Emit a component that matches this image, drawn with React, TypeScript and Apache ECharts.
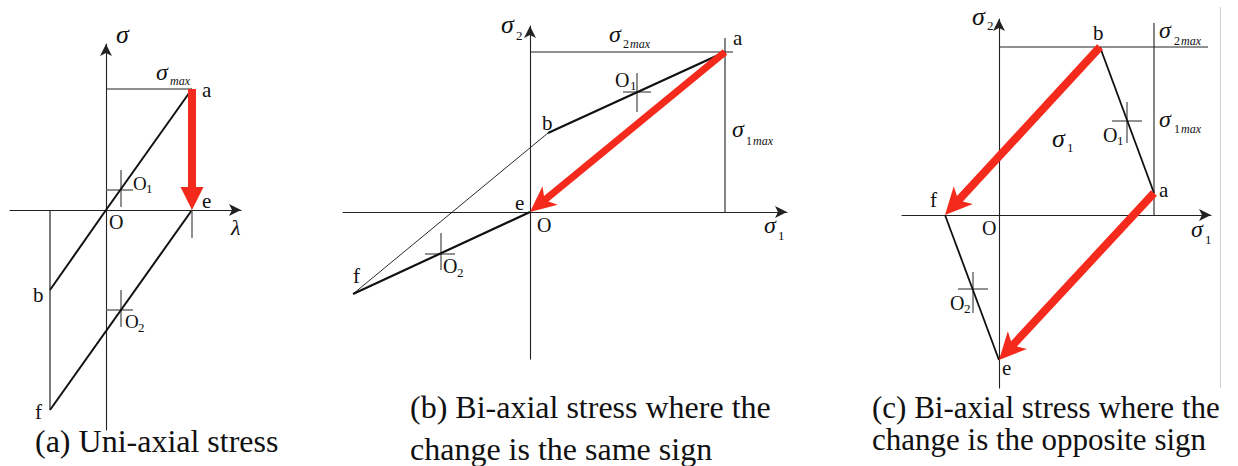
import { useEffect, useRef } from "react";
import * as echarts from "echarts";

// ---- (a) uni-axial stress: σ against λ, origin O at (0, 0) ----
const A_LOAD_BOA = [[-56, -80], [0, 0], [86, 121]]; // b – O – a
const A_RELOAD_FE = [[-56, -200], [86, 0]]; // f – e
const A_DROP_BF = [[-56, 0], [-56, -200]];
const A_SIGMA_MAX = [[0, 121], [86, 121]];
const A_TICK_E = [[86, 0], [86, -28]];
const A_CROSS_O1 = [[[15, 40], [15, 3]], [[0, 20], [27, 20]]];
const A_CROSS_O2 = [[[15, -80], [15, -117]], [[0, -100], [27, -100]]];
const A_ARROWS = [[86, 121, 86, 0]]; // a → e

// ---- (b) bi-axial, same sign: σ2 against σ1 ----
const B_PATH_BA = [[18, 79], [195, 160]]; // b – a
const B_PATH_FO = [[-177, -82], [0, 0]]; // f – O(e)
const B_THIN_FB = [[-177, -82], [18, 79]]; // f – b
const B_SIGMA2_MAX = [[0, 160], [203, 160]];
const B_SIGMA1_MAX = [[195, 174], [195, 0]];
const B_CROSS_O1 = [[[107, 139], [107, 100]], [[93, 120], [121, 120]]];
const B_CROSS_O2 = [[[-89, -21], [-89, -58]], [[-105, -42], [-75, -42]]];
const B_ARROWS = [[195, 160, 0, 0]]; // a → e

// ---- (c) bi-axial, opposite sign: σ2 against σ1 ----
const C_PATH_BA = [[101, 168], [155, 22]]; // b – a
const C_PATH_FE = [[-54, 0], [0, -145]]; // f – e
const C_SIGMA2_MAX = [[0, 168], [209, 168]];
const C_SIGMA1_MAX = [[155, 192], [155, 0]];
const C_CROSS_O1 = [[[128, 113], [128, 72]], [[113, 94], [143, 94]]];
const C_CROSS_O2 = [[[-26, -57], [-26, -98]], [[-41, -74], [-11, -74]]];
const C_ARROWS = [[101, 168, -54, 0], [155, 22, 0, -145]]; // b → f, a → e

// axis extents of each panel [xMin, xMax, yMin, yMax]
const RANGES = [
  [-96, 135, -220, 166],
  [-187, 257, -147, 186],
  [-97, 212, -173, 196],
];

const FONT = "Liberation Serif";
const RED = "#f42a1c";
const INK = "#111111";
const AXIS = "#222222";
const CROSS = "#555555";

// text, left x, baseline y, font size, italic
type Txt = [string, number, number, number, boolean?];
const LABELS: Txt[] = [
  // (a)
  ["σ", 116, 43, 26, true],
  ["σ", 156, 80, 24, true], ["max", 170, 85, 12, true],
  ["a", 202, 97, 21],
  ["O", 133, 190, 19], ["1", 146, 193, 13],
  ["e", 202, 208, 21],
  ["O", 109, 229, 20],
  ["λ", 231, 235, 22, true],
  ["b", 33, 302, 21],
  ["O", 125, 328, 19], ["2", 138, 332, 13],
  ["f", 35, 419, 21],
  // (b)
  ["σ", 501, 33, 26, true], ["2", 516, 40, 13],
  ["σ", 609, 42, 24, true], ["2", 623, 48, 12], ["max", 630, 48, 12, true],
  ["a", 733, 45, 21],
  ["O", 615, 87, 20], ["1", 630, 90, 13],
  ["b", 542, 130, 21],
  ["σ", 732, 137, 24, true], ["1", 746, 145, 12], ["max", 753, 145, 12, true],
  ["e", 515, 210, 21],
  ["O", 537, 232, 20],
  ["σ", 764, 233, 24, true], ["1", 778, 240, 13],
  ["f", 353, 283, 21],
  ["O", 443, 273, 20], ["2", 457, 277, 13],
  // (c)
  ["σ", 972, 25, 26, true], ["2", 987, 30, 13],
  ["b", 1093, 40, 21],
  ["σ", 1159, 38, 24, true], ["2", 1174, 45, 12], ["max", 1181, 45, 12, true],
  ["σ", 1159, 127, 24, true], ["1", 1174, 133, 12], ["max", 1181, 133, 12, true],
  ["σ", 1052, 147, 26, true], ["1", 1067, 152, 13],
  ["O", 1103, 142, 20], ["1", 1117, 145, 13],
  ["a", 1159, 197, 21],
  ["f", 930, 207, 21],
  ["O", 982, 235, 20],
  ["σ", 1191, 237, 24, true], ["1", 1205, 244, 13],
  ["O", 950, 310, 20], ["2", 964, 313, 13],
  ["e", 1002, 375, 21],
];

const CAPTIONS: Txt[] = [
  ["(a) Uni-axial stress", 35, 452, 32],
  ["(b) Bi-axial stress where the", 410, 418, 32],
  ["change is the same sign", 410, 460, 32],
  ["(c) Bi-axial stress where the", 872, 418, 31],
  ["change is the opposite sign", 872, 450, 31],
];

// pixel position of each panel's origin O
const ORIGINS = [
  [106, 210],
  [530, 212],
  [999, 215],
];

function textEl([text, x, baseline, size, italic]: Txt) {
  return {
    type: "text",
    x,
    y: baseline - 0.3375 * size,
    silent: true,
    style: {
      text,
      fill: "#111",
      fontFamily: FONT,
      fontSize: size,
      fontStyle: italic ? "italic" : "normal",
      fontWeight: "normal",
      align: "left",
      verticalAlign: "middle",
    },
  };
}

function seg(gi: number, pts: number[][], width: number, color: string, z = 2) {
  return {
    type: "line",
    xAxisIndex: gi,
    yAxisIndex: gi,
    data: pts,
    symbol: "none",
    showSymbol: false,
    silent: true,
    clip: false,
    z,
    lineStyle: { width, color, cap: "butt" },
  };
}

function crossSeries(gi: number, cross: number[][][]) {
  return cross.map((c) => seg(gi, c, 1.3, CROSS, 1));
}

function arrowSeries(gi: number, data: number[][], shaft: number, headL: number, headW: number, notch: number) {
  return {
    type: "custom",
    coordinateSystem: "cartesian2d",
    xAxisIndex: gi,
    yAxisIndex: gi,
    data,
    z: 5,
    silent: true,
    clip: false,
    encode: { x: [0, 2], y: [1, 3] },
    renderItem: (_params: any, api: any) => {
      const p1 = api.coord([api.value(0), api.value(1)]);
      const p2 = api.coord([api.value(2), api.value(3)]);
      const dx = p2[0] - p1[0];
      const dy = p2[1] - p1[1];
      const len = Math.hypot(dx, dy);
      const ux = dx / len;
      const uy = dy / len;
      const px = -uy;
      const py = ux;
      const w = shaft / 2;
      const hw = headW / 2;
      const bx = p2[0] - ux * headL;
      const by = p2[1] - uy * headL;
      const nx = p2[0] - ux * (headL - notch);
      const ny = p2[1] - uy * (headL - notch);
      const points = [
        [p1[0] + px * w, p1[1] + py * w],
        [nx + px * w, ny + py * w],
        [bx + px * hw, by + py * hw],
        [p2[0], p2[1]],
        [bx - px * hw, by - py * hw],
        [nx - px * w, ny - py * w],
        [p1[0] - px * w, p1[1] - py * w],
      ];
      return { type: "polygon", shape: { points }, style: { fill: RED } };
    },
  };
}

function buildOption() {
  const grids = RANGES.map(([x0, x1, y0, y1], i) => {
    const [ox, oy] = ORIGINS[i];
    return {
      left: ox + x0,
      top: oy - y1,
      width: x1 - x0,
      height: y1 - y0,
      containLabel: false,
    };
  });
  const axisCommon = {
    type: "value",
    axisTick: { show: false },
    axisLabel: { show: false },
    splitLine: { show: false },
    axisLine: {
      show: true,
      onZero: true,
      symbol: ["none", "arrow"],
      symbolSize: [9, 12],
      lineStyle: { color: AXIS, width: 1.1 },
    },
  };
  const xAxis = RANGES.map(([x0, x1], i) => ({ ...axisCommon, gridIndex: i, min: x0, max: x1 }));
  const yAxis = RANGES.map(([, , y0, y1], i) => ({ ...axisCommon, gridIndex: i, min: y0, max: y1 }));

  const series: any[] = [
    // (a)
    seg(0, A_LOAD_BOA, 2, INK),
    seg(0, A_RELOAD_FE, 2, INK),
    seg(0, A_DROP_BF, 1.2, AXIS),
    seg(0, A_SIGMA_MAX, 1.1, AXIS),
    seg(0, A_TICK_E, 1.3, CROSS),
    ...crossSeries(0, A_CROSS_O1),
    ...crossSeries(0, A_CROSS_O2),
    arrowSeries(0, A_ARROWS, 8, 23, 23, 0),
    // (b)
    seg(1, B_SIGMA2_MAX, 1.1, AXIS),
    seg(1, B_SIGMA1_MAX, 1.1, AXIS),
    seg(1, B_THIN_FB, 0.9, INK),
    seg(1, B_PATH_BA, 2.2, INK),
    seg(1, B_PATH_FO, 2.2, INK),
    ...crossSeries(1, B_CROSS_O1),
    ...crossSeries(1, B_CROSS_O2),
    arrowSeries(1, B_ARROWS, 7, 26, 24, 5),
    // (c)
    seg(2, C_SIGMA2_MAX, 1.1, AXIS),
    seg(2, C_SIGMA1_MAX, 1.1, AXIS),
    seg(2, C_PATH_BA, 1.8, INK),
    seg(2, C_PATH_FE, 1.8, INK),
    ...crossSeries(2, C_CROSS_O1),
    ...crossSeries(2, C_CROSS_O2),
    arrowSeries(2, C_ARROWS, 8, 27, 26, 5),
  ];

  const graphic: any[] = [
    ...LABELS.map(textEl),
    ...CAPTIONS.map(textEl),
    {
      type: "line",
      silent: true,
      shape: { x1: 1220.5, y1: 7, x2: 1220.5, y2: 388 },
      style: { stroke: "#d0d0d0", lineWidth: 1 },
    },
  ];

  return {
    animation: false,
    backgroundColor: "#ffffff",
    grid: grids,
    xAxis,
    yAxis,
    series,
    graphic,
  };
}

export default function App() {
  const ref = useRef<HTMLDivElement>(null);
  useEffect(() => {
    if (!ref.current) return;
    const chart = echarts.init(ref.current, undefined, { renderer: "svg" });
    chart.setOption(buildOption() as any);
    return () => chart.dispose();
  }, []);
  return (
    <div
      ref={ref}
      style={{ position: "absolute", left: 0, top: 0, width: 1238, height: 466, background: "#fff" }}
    />
  );
}
